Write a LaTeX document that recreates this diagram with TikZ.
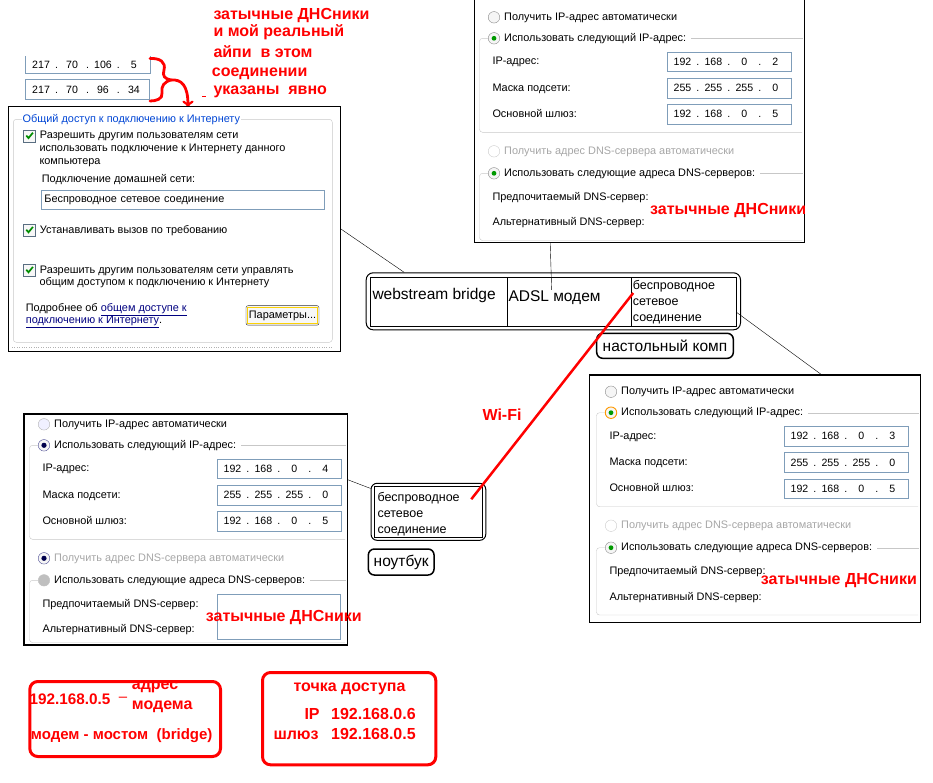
\documentclass[tikz,border=0pt]{standalone}
\usepackage{fontspec}
\setmainfont{Liberation Sans}
\usetikzlibrary{positioning}
\definecolor{xpblue}{RGB}{0,70,213}
\definecolor{fieldblue}{RGB}{127,157,185}
\definecolor{linkblue}{RGB}{0,0,128}
\newcommand{\octets}[4]{\makebox[28pt]{#1}.\makebox[28pt]{#2}.\makebox[28pt]{#3}.\makebox[28pt]{#4}}
\begin{document}
\begin{tikzpicture}[x=1pt, y=-1pt,
  ui/.style={font=\fontsize{10.9}{13}\selectfont, inner sep=0pt, text height=8pt, text depth=2pt, anchor=west},
  uigray/.style={ui, text=black!35},
  field/.style={draw=fieldblue, fill=white, minimum width=124, minimum height=19.5, inner sep=0pt, font=\fontsize{10.6}{13}\selectfont},
  radio/.style={circle, draw=black!45, fill=black!4, minimum size=11.5, inner sep=0pt},
  radioon/.style={radio, path picture={\fill[green!60!black] (path picture bounding box.center) circle (2.4pt);}},
  radioblue/.style={radio, draw=blue!40!black!70, path picture={\fill[blue!30!black] (path picture bounding box.center) circle (2.6pt);}},
  radiooff/.style={radio, draw=black!20, fill=white},
  chk/.style={draw=fieldblue!70!black, fill=black!3, minimum size=12, inner sep=0pt, path picture={\draw[green!55!black, line width=1.7pt] ([shift={(-3.2,-0.3)}]path picture bounding box.center) -- ++(2.2,2.6) -- ++(4.4,-5.4);}},
  panel/.style={draw=black, line width=1.2pt, inner sep=0pt, anchor=north west},
  grp/.style={draw=black!22, rounded corners=3pt},
  redtxt/.style={text=red, font=\bfseries\fontsize{16}{18}\selectfont, inner sep=0pt, text height=11.5pt, text depth=3pt, anchor=west},
  big/.style={font=\fontsize{15.5}{18}\selectfont, inner sep=0pt, text height=11.5pt, text depth=3pt, anchor=west},
  mid/.style={font=\fontsize{12.5}{15}\selectfont, inner sep=0pt, text height=9pt, text depth=2.5pt, anchor=west},
  cell/.style={draw, line width=1pt, minimum height=48.7, inner sep=0pt, anchor=north west},
  tag/.style={draw, line width=1.5pt, rounded corners=6pt, inner sep=0pt, font=\fontsize{15.5}{18}\selectfont},
  redbox/.style={draw=red, line width=3pt, rounded corners=8pt, inner sep=0pt, anchor=north west}
]
\useasboundingbox (0,0) rectangle (933,782);

% External addresses
\node[field, draw=none, anchor=north west, minimum height=16] (wan1) at (25.3,56.3) {\octets{217}{70}{106}{5}};
\draw[fieldblue] (wan1.north west) -- (wan1.south west) -- (wan1.south east) -- (wan1.north east);
\node[field, anchor=north west, minimum height=20.3] (wan2) at (25.3,79) {\octets{217}{70}{96}{34}};

% Brace and arrow
\draw[red, line width=2.8pt, line cap=round] (150,58.5) .. controls (160,58) and (166,62) .. (164,70) .. controls (162,76) and (165,79) .. (171,80) .. controls (164,82) and (161,86) .. (162,93) .. controls (163,99) and (156,101) .. (150,101);
\draw[red, line width=2.8pt, line cap=round, ->] (171,80) .. controls (182,79) and (188,86) .. (188,107);
\draw[red, line width=1.5pt] (202,96.5) -- (206,96.5);

\node[redtxt] (note1) at (213.3,15) {затычные ДНСники};
\node[redtxt] (note2) at (213.3,32.3) {и мой реальный};
\node[redtxt] (note3) at (213.3,53.3) {айпи\ \ в этом};
\node[redtxt] (note4) at (211.7,72.7) {соединении};
\node[redtxt] (note5) at (213.3,90.7) {указаны\ \ явно};

% Left panel: sharing
\node[panel, minimum width=332, minimum height=244.5] (lpanel) at (7.5,106) {};
\draw[black!22, rounded corners=3pt] (13.3,119.3) rectangle (332.3,342.3);
\node[ui, text=xpblue, fill=white, inner xsep=1pt] (lptitle) at (21.5,119.3) {Общий доступ к подключению к Интернету};
\draw[black!30, dotted] (12,347.5) -- (333,347.5);
\node[chk] (chk1) at (29.5,135.8) {};
\node[ui, right=4pt of chk1] (chk1a) {Разрешить другим пользователям сети};
\node[ui] (chk1b) at (39.3,148.5) {использовать подключение к Интернету данного};
\node[ui] (chk1c) at (39.3,161) {компьютера};
\node[ui] (homelbl) at (41.7,179.3) {Подключение домашней сети:};
\node[field, anchor=west, minimum width=283.3, minimum height=19, text width=277, align=left, font=\fontsize{10.9}{13}\selectfont] (homenet) at (41,199.5) {Беспроводное сетевое соединение};
\node[chk] (chk2) at (29.5,230) {};
\node[ui, right=4pt of chk2] (chk2a) {Устанавливать вызов по требованию};
\node[chk] (chk3) at (29.5,270) {};
\node[ui, right=4pt of chk3] (chk3a) {Разрешить другим пользователям сети управлять};
\node[ui] (chk3b) at (39.3,282.3) {общим доступом к подключению к Интернету};
\node[ui] (more1) at (25.7,308.3) {Подробнее об \textcolor{linkblue}{\underline{общем доступе к}}};
\node[ui] (more2) at (25.7,320.7) {\textcolor{linkblue}{\underline{подключению к Интернету}}.};
\node[draw=black!80, fill=black!3, rounded corners=2pt, minimum width=73, minimum height=19.5, inner sep=0pt, font=\fontsize{10.9}{13}\selectfont] (params) at (282.5,315.4) {Параметры...};
\draw[yellow!70!orange, line width=0.8pt] ([shift={(1.5,1.5)}]params.north west) rectangle ([shift={(-1.5,-1.5)}]params.south east);

% Top right panel: desktop
\node[panel, minimum width=330, minimum height=243.5] (tpanel) at (473.5,-1.5) {};
\node[radio] (tpr1) at (494,17.3) {};
\node[ui] (tpauto) at (504,17.3) {Получить IP-адрес автоматически};
\node[radioon] (tpr2) at (494,38.3) {};
\node[ui] (tpman) at (504,38.3) {Использовать следующий IP-адрес:};
\draw[grp] (tpr2.west) -- (479.5,38.3) -- (479.5,132.3) -- (802,132.3);
\draw[grp] ([xshift=5pt]tpman.east) -- ([xshift=-2pt]tpman.east -| tpanel.east);
\node[ui] (tpl1) at (492.3,61.8) {IP-адрес:};
\node[ui] (tpl2) at (492.3,88.2) {Маска подсети:};
\node[ui] (tpl3) at (492.3,114.3) {Основной шлюз:};
\node[field, anchor=west] (tpf1) at (666.7,61.8) {\octets{192}{168}{0}{2}};
\node[field, anchor=west] (tpf2) at (666.7,88) {\octets{255}{255}{255}{0}};
\node[field, anchor=west] (tpf3) at (666.7,114.3) {\octets{192}{168}{0}{5}};
\node[radiooff] (tpr3) at (494,151.3) {};
\node[uigray] (tpdnsauto) at (504,151.3) {Получить адрес DNS-сервера автоматически};
\node[radioon] (tpr4) at (494,173.3) {};
\node[ui] (tpdnsman) at (504,173.3) {Использовать следующие адреса DNS-серверов:};
\draw[grp] (tpr4.west) -- (479.5,173.3) -- (479.5,240.5) -- (802,240.5);
\draw[grp] ([xshift=5pt]tpdnsman.east) -- ([xshift=-2pt]tpdnsman.east -| tpanel.east);
\node[ui] (tpd1) at (492.3,197.3) {Предпочитаемый DNS-сервер:};
\node[ui] (tpd2) at (492.3,222.7) {Альтернативный DNS-сервер:};

% Right panel: access point
\begin{scope}[shift={(117,374.4)}]
\node[panel, minimum width=331, minimum height=247.3] (rpanel) at (472,0) {};
\node[radio] (rpr1) at (494,17.3) {};
\node[ui] (rpauto) at (504,17.3) {Получить IP-адрес автоматически};
\node[radioon, draw=orange!80!yellow, line width=0.9pt] (rpr2) at (494,38.3) {};
\node[ui] (rpman) at (504,38.3) {Использовать следующий IP-адрес:};
\draw[grp] (rpr2.west) -- (479.5,38.3) -- (479.5,132.3) -- (801,132.3);
\draw[grp] ([xshift=5pt]rpman.east) -- ([xshift=-2pt]rpman.east -| rpanel.east);
\node[ui] (rpl1) at (492.3,61.8) {IP-адрес:};
\node[ui] (rpl2) at (492.3,88.2) {Маска подсети:};
\node[ui] (rpl3) at (492.3,114.3) {Основной шлюз:};
\node[field, anchor=west] (rpf1) at (666.7,61.8) {\octets{192}{168}{0}{3}};
\node[field, anchor=west] (rpf2) at (666.7,88) {\octets{255}{255}{255}{0}};
\node[field, anchor=west] (rpf3) at (666.7,114.3) {\octets{192}{168}{0}{5}};
\node[radiooff] (rpr3) at (494,151.3) {};
\node[uigray] (rpdnsauto) at (504,151.3) {Получить адрес DNS-сервера автоматически};
\node[radioon] (rpr4) at (494,173.3) {};
\node[ui] (rpdnsman) at (504,173.3) {Использовать следующие адреса DNS-серверов:};
\draw[grp] (rpr4.west) -- (479.5,173.3) -- (479.5,240.6) -- (801,240.6);
\draw[grp] ([xshift=5pt]rpdnsman.east) -- ([xshift=-2pt]rpdnsman.east -| rpanel.east);
\node[ui] (rpd1) at (492.3,197.3) {Предпочитаемый DNS-сервер:};
\node[ui] (rpd2) at (492.3,222.7) {Альтернативный DNS-сервер:};
\end{scope}

% Bottom left panel: notebook
\begin{scope}[shift={(-450,407)}]
\node[panel, minimum width=323.4, minimum height=231] (blpanel) at (473.3,6.3) {};
\node[radio, draw=black!30, fill=blue!6] (blr1) at (494,17.3) {};
\node[ui] (blauto) at (504,17.3) {Получить IP-адрес автоматически};
\node[radioblue] (blr2) at (494,38.3) {};
\node[ui] (blman) at (504,38.3) {Использовать следующий IP-адрес:};
\draw[grp] (blr2.west) -- (479.5,38.3) -- (479.5,132.3) -- (795,132.3);
\draw[grp] ([xshift=5pt]blman.east) -- ([xshift=-2pt]blman.east -| blpanel.east);
\node[ui] (bll1) at (492.3,61.8) {IP-адрес:};
\node[ui] (bll2) at (492.3,88.2) {Маска подсети:};
\node[ui] (bll3) at (492.3,114.3) {Основной шлюз:};
\node[field, anchor=west] (blf1) at (666.7,61.8) {\octets{192}{168}{0}{4}};
\node[field, anchor=west] (blf2) at (666.7,88) {\octets{255}{255}{255}{0}};
\node[field, anchor=west] (blf3) at (666.7,114.3) {\octets{192}{168}{0}{5}};
\node[radioblue] (blr3) at (494,151.3) {};
\node[uigray] (bldnsauto) at (504,151.3) {Получить адрес DNS-сервера автоматически};
\node[radio, draw=black!25, fill=black!25] (blr4) at (494,173.3) {};
\node[ui] (bldnsman) at (504,173.3) {Использовать следующие адреса DNS-серверов:};
\draw[grp] (blr4.west) -- (479.5,173.3) -- (479.5,235.5) -- (795,235.5);
\draw[grp] ([xshift=5pt]bldnsman.east) -- ([xshift=-2pt]bldnsman.east -| blpanel.east);
\node[ui] (bld1) at (492.3,197.3) {Предпочитаемый DNS-сервер:};
\node[ui] (bld2) at (492.3,222.7) {Альтернативный DNS-сервер:};
\node[field, anchor=north west, minimum width=123.3, minimum height=45] (bldnsf) at (666.7,187) {};
\end{scope}

\node[redtxt] (dnstp) at (650,210) {затычные ДНСники};
\node[redtxt] (dnsrp) at (760.7,580) {затычные ДНСники};
\node[redtxt] (dnsbl) at (205.7,617) {затычные ДНСники};

% Desktop box
\node[cell, minimum width=136.7] (cbridge) at (370,277.3) {};
\node[cell, minimum width=124] (cmodem) at (506.7,277.3) {};
\node[cell, minimum width=105] (cwifi) at (630.7,277.3) {};
\node[draw, line width=1pt, rounded corners=7pt, minimum width=374.3, minimum height=57, inner sep=0pt, anchor=north west] (pcframe) at (365.7,272.3) {};
\node[big] (bridgetxt) at (372.3,295) {webstream bridge};
\node[big] (modemtxt) at (508.3,297.3) {ADSL модем};
\node[mid] (pcw1) at (632.7,286.7) {беспроводное};
\node[mid] (pcw2) at (632.7,302.7) {сетевое};
\node[mid] (pcw3) at (632.7,318.3) {соединение};
\node[tag, minimum width=136.6, minimum height=25] (pctag) at (665,345.8) {настольный комп};

% Notebook box
\node[draw, line width=1pt, rounded corners=6pt, minimum width=114.7, minimum height=57, inner sep=0pt] (nbox) at (428.4,511.8) {};
\node[cell, minimum width=108.3, minimum height=51] (nwin) at (374,485.7) {};
\node[mid] (nbw1) at (377.3,498.3) {беспроводное};
\node[mid] (nbw2) at (377.3,514.3) {сетевое};
\node[mid] (nbw3) at (377.3,530) {соединение};
\node[tag, minimum width=65.7, minimum height=26] (nbtag) at (401.2,562) {ноутбук};

% Connectors
\draw (lpanel.east) -- (pcframe.169);
\draw (tpanel.-126.7) -- (modemtxt.111);
\draw (cwifi.-11) -- (rpanel.62);
\draw (blpanel.17) -- (nbox.158);
\path (nwin.north east) ++(-12,13.5) coordinate (wifilo);
\path (cwifi.north west) ++(2.5,15.7) coordinate (wifihi);
\draw[red, line width=2.5pt] (wifilo) -- (wifihi);
\node[redtxt, anchor=center] (wifilbl) at (502,416) {Wi-Fi};

% Notes at the bottom
\node[redbox, minimum width=190.7, minimum height=75] (modembox) at (28.3,680) {};
\node[redtxt, font=\bfseries\fontsize{15.3}{18}\selectfont] (mip) at (29.3,700) {192.168.0.5};
\node[text=red, font=\fontsize{15}{17}\selectfont, inner sep=0pt] (mdash) at (123,699) {–};
\node[redtxt] (maddr1) at (131.7,685.7) {адрес};
\node[redtxt] (maddr2) at (131.7,705) {модема};
\node[redtxt, font=\bfseries\fontsize{15}{18}\selectfont] (mbridge) at (30.7,735.7) {модем - мостом\ \ (bridge)};
\node[redbox, minimum width=173.3, minimum height=92.3] (apbox) at (261,671) {};
\node[redtxt] (aptitle) at (293.3,687.7) {точка доступа};
\node[redtxt] (apiplbl) at (304.3,715.7) {IP};
\node[redtxt] (apip) at (331,715.7) {192.168.0.6};
\node[redtxt] (apgwlbl) at (273.3,735) {шлюз};
\node[redtxt] (apgw) at (331,735) {192.168.0.5};

\end{tikzpicture}
\end{document}
